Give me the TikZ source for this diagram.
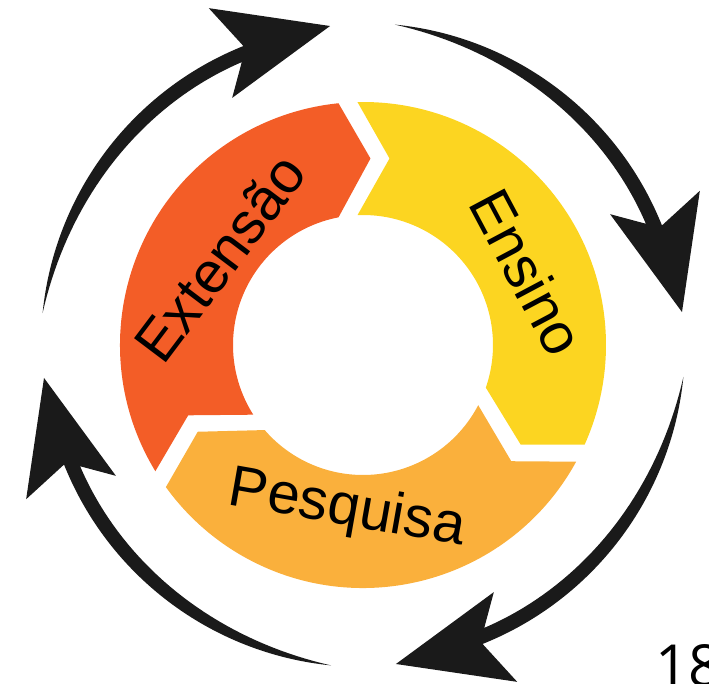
\documentclass[tikz,border=0pt]{standalone}
\usepackage{fontspec}
\setmainfont{Liberation Sans}
\newfontfamily\pagefont{Open Sans}
\definecolor{extcol}{HTML}{F35D27}
\definecolor{enscol}{HTML}{FCD521}
\definecolor{pescol}{HTML}{FAB03C}
\definecolor{arrowcol}{HTML}{1A1A1A}
\begin{document}
\begin{tikzpicture}[x=1pt,y=1pt]
\tikzstyle{every node}+=[inner sep=0pt]
\tikzstyle{ringlabel}=[font=\fontsize{58}{60}\selectfont]
\useasboundingbox (-363,-338) rectangle (346,345);
\clip (-363,-338) rectangle (346,345);
% ring parts
\fill [extcol] (211.3:243) arc [start angle=211.3, end angle=95.79, radius=243] -- (87.7:186.65) -- (100.86:130) arc [start angle=100.86, end angle=212.42, radius=130] -- (201.91:188.4) -- cycle;
\fill [enscol] (91.3:243) arc [start angle=91.3, end angle=-24.21, radius=243] -- (-32.3:186.65) -- (-19.14:130) arc [start angle=-19.14, end angle=92.42, radius=130] -- (81.91:188.4) -- cycle;
\fill [pescol] (-28.7:243) arc [start angle=-28.7, end angle=-144.21, radius=243] -- (-152.3:186.65) -- (-139.14:130) arc [start angle=-139.14, end angle=-27.58, radius=130] -- (-38.09:188.4) -- cycle;
\node [ringlabel, rotate=53] (extensao) at (-143,87) {Extensão};
\node [ringlabel, rotate=-62] (ensino) at (164,73) {Ensino};
\node [ringlabel, rotate=-10] (pesquisa) at (-16,-165) {Pesquisa};
% outer arrows
\begin{scope}[rotate=0]
\fill [arrowcol] (174.3:322) arc [start angle=174.3, end angle=111.8, radius=322] -- (114.6:370.5) -- (95.9:320.7) -- (117.9:279.6) -- plot [domain=113.2:174.3, samples=40, variable=\t] (\t:{322-14.2*(1-((\t-113.2)/61.1)^3)}) -- cycle;
\end{scope}
\begin{scope}[rotate=-90]
\fill [arrowcol] (174.3:322) arc [start angle=174.3, end angle=111.8, radius=322] -- (114.6:370.5) -- (95.9:320.7) -- (117.9:279.6) -- plot [domain=113.2:174.3, samples=40, variable=\t] (\t:{322-14.2*(1-((\t-113.2)/61.1)^3)}) -- cycle;
\end{scope}
\begin{scope}[rotate=-180]
\fill [arrowcol] (174.3:322) arc [start angle=174.3, end angle=111.8, radius=322] -- (114.6:370.5) -- (95.9:320.7) -- (117.9:279.6) -- plot [domain=113.2:174.3, samples=40, variable=\t] (\t:{322-14.2*(1-((\t-113.2)/61.1)^3)}) -- cycle;
\end{scope}
\begin{scope}[rotate=90]
\fill [arrowcol] (174.3:322) arc [start angle=174.3, end angle=111.8, radius=322] -- (114.6:370.5) -- (95.9:320.7) -- (117.9:279.6) -- plot [domain=113.2:174.3, samples=40, variable=\t] (\t:{322-14.2*(1-((\t-113.2)/61.1)^3)}) -- cycle;
\end{scope}
% page number
\node [font=\pagefont\fontsize{58}{60}\selectfont, anchor=base west] (pagenum) at (292,-341) {18};
\end{tikzpicture}
\end{document}
